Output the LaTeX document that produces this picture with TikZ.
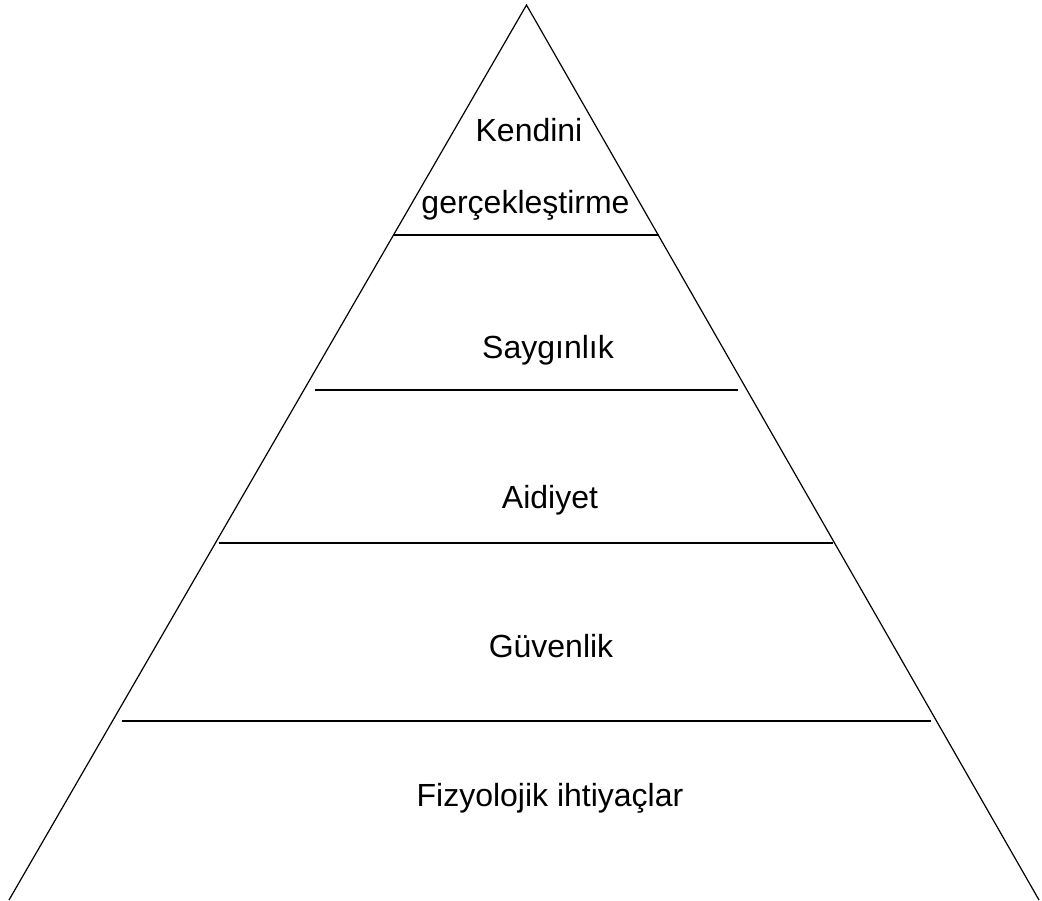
\documentclass[tikz,border=0pt]{standalone}
\usepackage{fontspec}
\setmainfont{Liberation Sans}
\begin{document}
\begin{tikzpicture}[x=0.75pt,y=-0.75pt,
  edge/.style={line width=0.9pt,black},
  level/.style={line width=1.1pt,black},
  lbl/.style={anchor=base,inner sep=0pt,font=\fontsize{24}{28}\selectfont}]
\useasboundingbox (0,0) rectangle (1042,900);
\coordinate (A) at (526.5,5);
\coordinate (L) at (9,900);
\coordinate (R) at (1039,900);
\draw[edge] (L) -- (A) -- (R);
\coordinate (a1) at (393.4,235); \coordinate (b1) at (658.6,235);
\coordinate (a2) at (315,390);   \coordinate (b2) at (738,390);
\coordinate (a3) at (219,543);   \coordinate (b3) at (833,543);
\coordinate (a4) at (122,721);   \coordinate (b4) at (931,721);
\draw[level] (a1) -- (b1);
\draw[level] (a2) -- (b2);
\draw[level] (a3) -- (b3);
\draw[level] (a4) -- (b4);
\node[lbl] (t1) at (529,141.7) {Kendini};
\node[lbl] (t2) at (525.5,213) {gerçekleştirme};
\node[lbl] (t3) at (548,358) {Saygınlık};
\node[lbl] (t4) at (550,508) {Aidiyet};
\node[lbl] (t5) at (551,657) {Güvenlik};
\node[lbl] (t6) at (550,806) {Fizyolojik ihtiyaçlar};
\end{tikzpicture}
\end{document}
